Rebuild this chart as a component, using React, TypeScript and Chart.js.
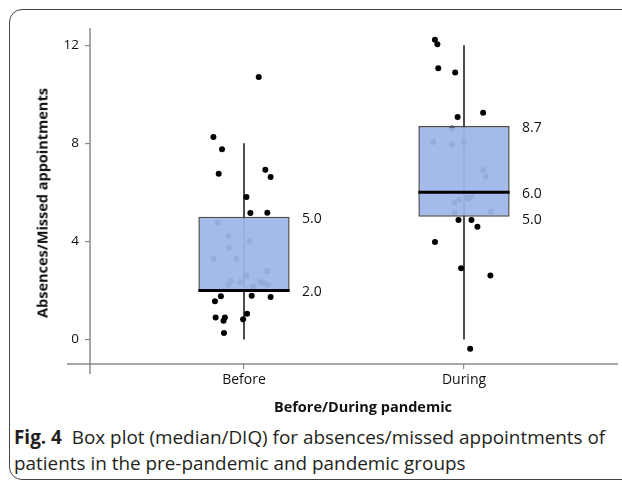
import React, { useEffect, useRef } from "react";
import { Chart, registerables } from "chart.js";

Chart.register(...registerables);

// ---- data ----
const categories = ["Before", "During"];
const whiskerLow = [0, 0];
const q1 = [2.0, 5.0];
const medians = [2.0, 6.0];
const q3 = [5.0, 8.7];
const whiskerHigh = [8, 12];
const yTicks = [0, 4, 8, 12];

// jittered observations (x jitter in category units, y values)
const beforeJitter = [
  0.067, -0.139, -0.1, -0.115, 0.097, 0.121, 0.011, 0.029, 0.106,
  -0.105, -0.132, 0.035, 0.121, -0.129, -0.087, -0.093, 0.014, -0.004, -0.091,
  -0.119, -0.071, 0.026, -0.067, -0.138, -0.035, 0.105, 0.011, -0.058, -0.071,
  -0.016, 0.042, 0.075, 0.09, 0.108,
];
const beforeValues = [
  10.7, 8.26, 7.76, 6.76, 6.92, 6.62, 5.81, 5.16, 5.17,
  1.76, 1.56, 1.78, 1.73, 0.9, 0.9, 0.76, 1.05, 0.82, 0.26,
  4.78, 4.23, 4.03, 3.74, 3.28, 3.29, 2.79, 2.61, 2.37, 2.24,
  2.33, 2.16, 2.34, 2.3, 2.23,
];
const duringJitter = [
  -0.132, -0.121, -0.117, -0.04, -0.029, 0.087,
  -0.055, -0.139, -0.055, -0.001, 0.087, 0.099, -0.044, -0.022, 0.013, 0.02,
  0.034, -0.043, 0.123,
  -0.025, 0.034, 0.061, -0.132, -0.013, 0.12, 0.028,
];
const duringValues = [
  12.22, 12.04, 11.06, 10.89, 9.07, 9.24,
  8.6, 8.05, 7.95, 8.03, 6.91, 6.65, 5.6, 5.7, 5.78, 5.74,
  5.84, 5.18, 5.22,
  4.87, 4.87, 4.6, 3.97, 2.9, 2.61, -0.38,
];

// ---- style ----
const FONT = "'Open Sans', sans-serif";
const AXIS_COLOR = "#8a8a8a";
const BOX_HALF = 0.2075;
const BOX_FILL = "rgba(159,182,233,0.945)";
const BOX_BORDER = "#4a4a4a";

const axisLinesPlugin = {
  id: "axisLines",
  beforeDatasetsDraw(chart: any) {
    const { ctx, chartArea } = chart;
    ctx.save();
    ctx.strokeStyle = AXIS_COLOR;
    ctx.lineWidth = 1.5;
    ctx.beginPath();
    ctx.moveTo(chartArea.left - 23, chartArea.bottom);
    ctx.lineTo(chartArea.right, chartArea.bottom);
    ctx.moveTo(chartArea.left, chartArea.top);
    ctx.lineTo(chartArea.left, chartArea.bottom + 10);
    ctx.stroke();
    ctx.restore();
  },
};

const valueLabelPlugin = {
  id: "valueLabels",
  afterDatasetsDraw(chart: any) {
    const { ctx } = chart;
    const xs = chart.scales.x;
    const ys = chart.scales.y;
    ctx.save();
    ctx.font = `14px ${FONT}`;
    ctx.fillStyle = "#111";
    ctx.textAlign = "left";
    ctx.textBaseline = "middle";
    categories.forEach((_, i) => {
      const vals = Array.from(new Set([q3[i], medians[i], q1[i]])).sort((a, b) => b - a);
      let prevY = -Infinity;
      const cx = xs.getPixelForValue(i + 1) + 58;
      vals.forEach((v) => {
        let y = ys.getPixelForValue(v) + 2;
        if (y - prevY < 26) y = prevY + 26;
        prevY = y;
        ctx.fillText(v.toFixed(1), cx, y);
      });
    });
    ctx.restore();
  },
};

export default function App() {
  const ref = useRef<HTMLCanvasElement>(null);

  useEffect(() => {
    document.body.style.margin = "0";
    document.body.style.overflow = "hidden";
    const canvas = ref.current;
    if (!canvas) return;

    const whiskerSets = categories.map((_, i) => ({
      type: "line" as const,
      data: [
        { x: i + 1, y: whiskerLow[i] },
        { x: i + 1, y: whiskerHigh[i] },
      ],
      borderColor: "#111",
      borderWidth: 1.5,
      pointRadius: 0,
      fill: false,
      order: 4,
    }));

    const points = [
      ...beforeValues.map((v, k) => ({ x: 1 + beforeJitter[k], y: v })),
      ...duringValues.map((v, k) => ({ x: 2 + duringJitter[k], y: v })),
    ];

    const medianSets = categories.map((_, i) => ({
      type: "line" as const,
      data: [
        { x: i + 1 - BOX_HALF, y: medians[i] },
        { x: i + 1 + BOX_HALF, y: medians[i] },
      ],
      borderColor: "#000",
      borderWidth: 3,
      pointRadius: 0,
      fill: false,
      order: 1,
    }));

    const chart = new Chart(canvas, {
      type: "bar",
      data: {
        datasets: [
          ...whiskerSets,
          {
            type: "scatter",
            data: points,
            backgroundColor: "#000",
            borderColor: "#000",
            pointRadius: 3,
            borderWidth: 0,
            order: 3,
          },
          {
            type: "bar",
            data: categories.map((_, i) => ({ x: i + 1, y: [q1[i], q3[i]] })),
            backgroundColor: BOX_FILL,
            borderColor: BOX_BORDER,
            borderWidth: 1.5,
            borderSkipped: false,
            barPercentage: 1,
            categoryPercentage: BOX_HALF * 2,
            grouped: false,
            order: 2,
          },
          ...medianSets,
        ] as any,
      },
      options: {
        animation: false,
        responsive: false,
        maintainAspectRatio: false,
        events: [],
        layout: { padding: { top: 28, left: 0, right: 0, bottom: 0 } },
        plugins: { legend: { display: false }, tooltip: { enabled: false } },
        scales: {
          x: {
            type: "linear",
            min: 0.3,
            max: 2.7,
            offset: false,
            afterBuildTicks: (s: any) => {
              s.ticks = categories.map((_, i) => ({ value: i + 1 }));
            },
            afterFit: (s: any) => {
              s.height = 56;
            },
            ticks: {
              callback: (v: any) => categories[Math.round(v) - 1] ?? "",
              font: { family: FONT, size: 14 },
              color: "#111",
              padding: 3,
              autoSkip: false,
              maxRotation: 0,
            },
            grid: { offset: false, drawOnChartArea: false, drawTicks: true, tickLength: 5, color: AXIS_COLOR, lineWidth: 1.2 },
            border: { display: false },
          },
          y: {
            min: -1,
            max: 12.7,
            afterBuildTicks: (s: any) => {
              s.ticks = yTicks.map((v) => ({ value: v }));
            },
            afterFit: (s: any) => {
              s.width = 90;
            },
            ticks: {
              font: { family: FONT, size: 13.5 },
              color: "#111",
              padding: 6,
            },
            grid: { drawOnChartArea: false, drawTicks: true, tickLength: 5, color: AXIS_COLOR, lineWidth: 1.2 },
            border: { display: false },
          },
        },
      } as any,
      plugins: [axisLinesPlugin, valueLabelPlugin],
    });
    return () => chart.destroy();
  }, []);

  return (
    <div style={{ position: "relative", width: 622, height: 481, overflow: "hidden", background: "#fff" }}>
      <div
        style={{
          position: "absolute",
          left: 9,
          top: 9,
          width: 800,
          height: 471,
          boxSizing: "border-box",
          border: "1.5px solid #444",
          borderRadius: 13,
        }}
      />
      <canvas ref={ref} width={622} height={420} style={{ position: "absolute", left: 0, top: 0, width: 622, height: 420 }} />
      <div
        style={{
          position: "absolute",
          left: 42,
          top: 203,
          transform: "translate(-50%, -50%) rotate(-90deg)",
          whiteSpace: "nowrap",
          font: `bold 14.5px ${FONT}`,
          color: "#111",
        }}
      >
        Absences/Missed appointments
      </div>
      <div
        style={{
          position: "absolute",
          left: 363,
          top: 406,
          transform: "translate(-50%, -50%)",
          whiteSpace: "nowrap",
          font: `bold 14.5px ${FONT}`,
          color: "#111",
        }}
      >
        Before/During pandemic
      </div>
      <div
        style={{
          position: "absolute",
          left: 14,
          top: 424,
          whiteSpace: "nowrap",
          font: `18.9px ${FONT}`,
          lineHeight: "26px",
          color: "#231f20",
        }}
      >
        <b>Fig. 4</b>&nbsp; Box plot (median/DIQ) for absences/missed appointments of
        <br />
        patients in the pre-pandemic and pandemic groups
      </div>
    </div>
  );
}
